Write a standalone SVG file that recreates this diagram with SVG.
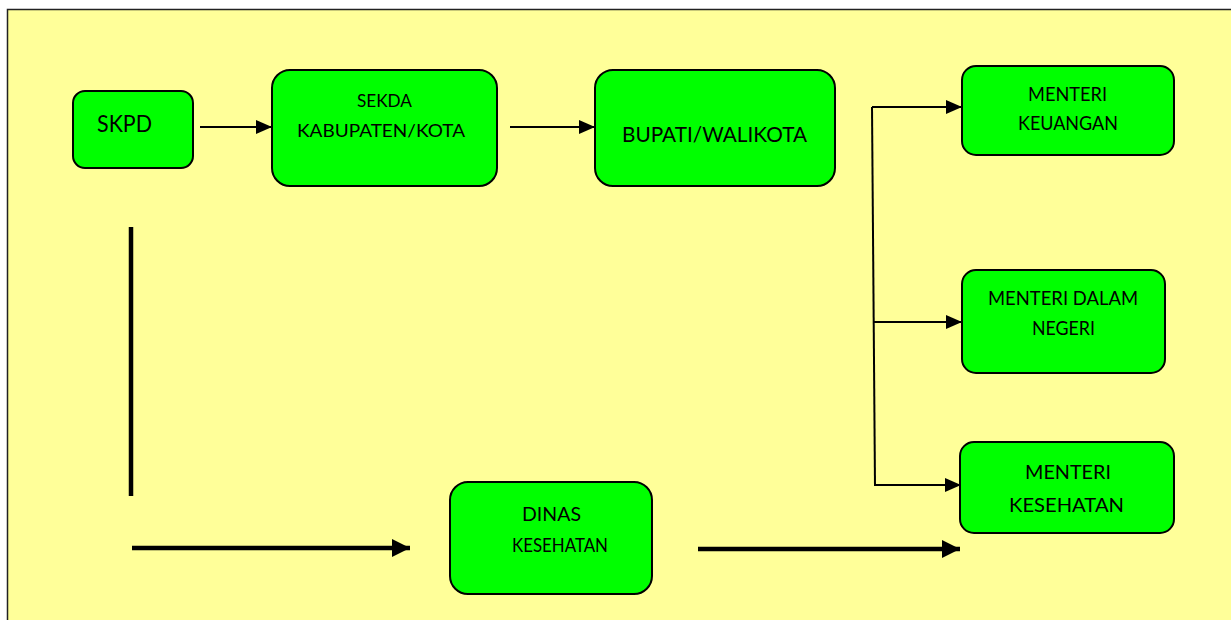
<svg xmlns="http://www.w3.org/2000/svg" width="1231" height="620" viewBox="0 0 1231 620">
<style>
.box{fill:#00FF00;stroke:#000;stroke-width:2}
.t{font-family:Lato,"Liberation Sans",sans-serif;fill:#000;text-anchor:middle}
.thin{stroke:#000;stroke-width:2;fill:none}
.thick{stroke:#000;stroke-width:4.5;fill:none}
</style>
<defs>
<marker id="ah" markerWidth="16" markerHeight="14" refX="16" refY="7" orient="auto" markerUnits="userSpaceOnUse"><path d="M0,0 L16,7 L0,14 Z" fill="#000"/></marker>
<marker id="ahb" markerWidth="18" markerHeight="18" refX="18" refY="9" orient="auto" markerUnits="userSpaceOnUse"><path d="M0,0 L18,9 L0,18 Z" fill="#000"/></marker>
</defs>
<rect x="0" y="0" width="1231" height="620" fill="#fff"/>
<rect x="7.5" y="9.5" width="1240" height="630" fill="#FFFF99" stroke="#222" stroke-width="1.5"/>
<g id="connectors">
<line class="thin" x1="200" y1="127" x2="272" y2="127" marker-end="url(#ah)"/>
<line class="thin" x1="510" y1="127" x2="595" y2="127" marker-end="url(#ah)"/>
<line class="thin" x1="872" y1="107" x2="875" y2="486"/>
<line class="thin" x1="872" y1="107" x2="962" y2="107" marker-end="url(#ah)"/>
<line class="thin" x1="874" y1="322" x2="962" y2="322" marker-end="url(#ah)"/>
<line class="thin" x1="876" y1="485" x2="961" y2="485" marker-end="url(#ah)"/>
<line class="thick" x1="131" y1="227" x2="131" y2="496"/>
<line class="thick" x1="132" y1="548" x2="410" y2="548" marker-end="url(#ahb)"/>
<line class="thick" x1="698" y1="549" x2="960" y2="549" marker-end="url(#ahb)"/>
</g>
<g id="skpd">
<rect class="box" x="73" y="91" width="120" height="77" rx="12"/>
<text class="t" x="124.5" y="132" font-size="24" textLength="55" lengthAdjust="spacingAndGlyphs">SKPD</text>
</g>
<g id="sekda">
<rect class="box" x="272" y="70" width="225" height="116" rx="18"/>
<text class="t" x="384.5" y="107" font-size="18" textLength="55" lengthAdjust="spacingAndGlyphs">SEKDA</text>
<text class="t" x="381" y="137" font-size="18" textLength="168" lengthAdjust="spacingAndGlyphs">KABUPATEN/KOTA</text>
</g>
<g id="bupati">
<rect class="box" x="595" y="70" width="240" height="116" rx="18"/>
<text class="t" x="714.5" y="142" font-size="21" textLength="185" lengthAdjust="spacingAndGlyphs">BUPATI/WALIKOTA</text>
</g>
<g id="menteri-keuangan">
<rect class="box" x="962" y="66" width="212" height="89" rx="14"/>
<text class="t" x="1067.5" y="101" font-size="19" textLength="79" lengthAdjust="spacingAndGlyphs">MENTERI</text>
<text class="t" x="1068" y="130" font-size="19" textLength="100" lengthAdjust="spacingAndGlyphs">KEUANGAN</text>
</g>
<g id="menteri-dalam-negeri">
<rect class="box" x="962" y="270" width="203" height="103" rx="14"/>
<text class="t" x="1063" y="305" font-size="19" textLength="150" lengthAdjust="spacingAndGlyphs">MENTERI DALAM</text>
<text class="t" x="1063.5" y="335" font-size="19" textLength="63" lengthAdjust="spacingAndGlyphs">NEGERI</text>
</g>
<g id="menteri-kesehatan">
<rect class="box" x="960" y="442" width="214" height="91" rx="14"/>
<text class="t" x="1068" y="479" font-size="19" textLength="86" lengthAdjust="spacingAndGlyphs">MENTERI</text>
<text class="t" x="1066.5" y="512" font-size="19" textLength="115" lengthAdjust="spacingAndGlyphs">KESEHATAN</text>
</g>
<g id="dinas-kesehatan">
<rect class="box" x="450" y="482" width="202" height="112" rx="18"/>
<text class="t" x="551.5" y="521" font-size="19" textLength="59" lengthAdjust="spacingAndGlyphs">DINAS</text>
<text class="t" x="560" y="552" font-size="19" textLength="96" lengthAdjust="spacingAndGlyphs">KESEHATAN</text>
</g>
</svg>
